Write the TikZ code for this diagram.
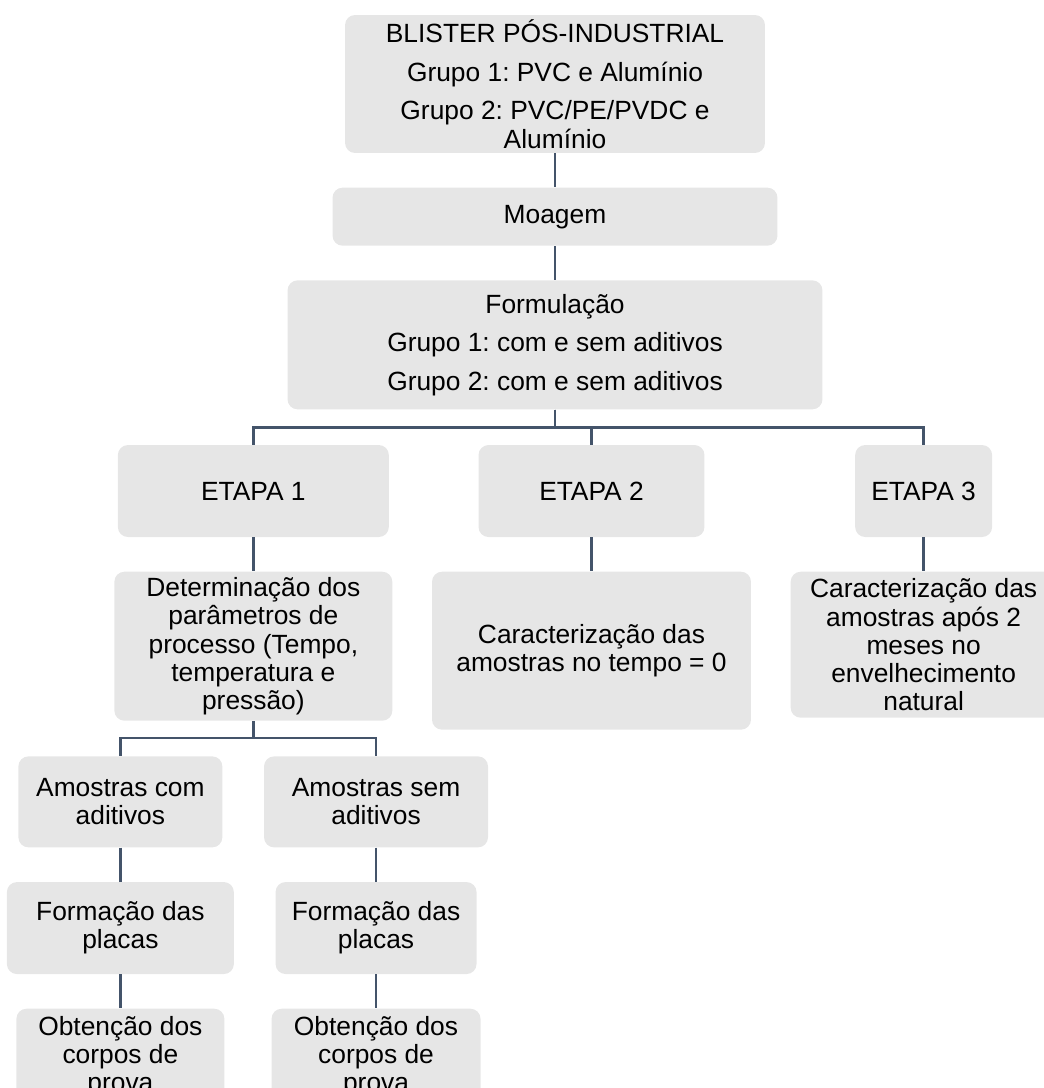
\documentclass[tikz,border=0pt]{standalone}
\usepackage{fontspec}
\setmainfont{Liberation Sans}
\usepackage{tikz}
\usetikzlibrary{positioning}
\frenchspacing
\definecolor{boxgray}{HTML}{E6E6E6}
\definecolor{linkblue}{HTML}{44546A}
\tikzset{
    every node/.style={font=\fontsize{15}{16}\selectfont},
    main node/.style={fill=boxgray,rounded corners=0.2cm,align=center,inner sep=1pt}
}

\begin{document}
\begin{tikzpicture}[
            x = 0.02cm, y = -0.02cm, % one unit = one pixel
            node distance = 0.68cm, % gap between rows
            link/.style = {draw=linkblue, line width=0.05cm} % connector style
        ]

        \useasboundingbox (0,0) rectangle (1044,1088);
        \clip (0,0) rectangle (1044,1088);

        \node[main node, minimum width=8.4cm, minimum height=2.76cm] (blister) at (555,84) {BLISTER PÓS-INDUSTRIAL\\[6pt] Grupo 1: PVC e Alumínio\\[6pt] Grupo 2: PVC/PE/PVDC e\\ Alumínio};
        \node[main node, minimum width=8.9cm, minimum height=1.16cm] [below=of blister] (moagem) {Moagem};
        \node[main node, minimum width=10.7cm, minimum height=2.58cm] [below=of moagem] (form) {Formulação\\[6pt] Grupo 1: com e sem aditivos\\[6pt] Grupo 2: com e sem aditivos};

        \node[main node, minimum width=4.52cm, minimum height=1.84cm] [below=0.7cm of form, xshift=0.73cm] (etapa2) {ETAPA 2};
        \node[main node, minimum width=5.42cm, minimum height=1.84cm] [left=1.78cm of etapa2] (etapa1) {ETAPA 1};
        \node[main node, minimum width=2.74cm, minimum height=1.84cm] [right=3cm of etapa2] (etapa3) {ETAPA 3};

        \node[main node, minimum width=5.56cm, minimum height=2.98cm] [below=of etapa1] (param) {Determinação dos\\ parâmetros de\\ processo (Tempo,\\ temperatura e\\ pressão)};
        \node[main node, minimum width=6.38cm, minimum height=3.16cm] [below=of etapa2] (carac0) {Caracterização das\\ amostras no tempo = 0};
        \node[main node, minimum width=5.32cm, minimum height=2.92cm] [below=of etapa3] (carac2) {Caracterização das\\ amostras após 2\\ meses no\\ envelhecimento\\ natural};

        \node[main node, minimum width=4.08cm, minimum height=1.82cm] [below=0.7cm of param, xshift=-2.66cm] (com) {Amostras com\\ aditivos};
        \node[main node, minimum width=4.48cm, minimum height=1.82cm] [right=0.82cm of com] (sem) {Amostras sem\\ aditivos};

        \node[main node, minimum width=4.54cm, minimum height=1.84cm] [below=of com] (placa1) {Formação das\\ placas};
        \node[main node, minimum width=4.02cm, minimum height=1.84cm] [below=of sem] (placa2) {Formação das\\ placas};

        \node[main node, minimum width=4.16cm, minimum height=1.92cm] [below=of placa1] (corpo1) {Obtenção dos\\ corpos de\\ prova};
        \node[main node, minimum width=4.18cm, minimum height=1.92cm] [below=of placa2] (corpo2) {Obtenção dos\\ corpos de\\ prova};

        \draw[link] (blister) -- (moagem);
        \draw[link] (moagem) -- (form);

        \draw[link] (form.south) -- ++(0,18) -| (etapa1.north);
        \draw[link] (form.south) -- ++(0,18) -| (etapa2.north);
        \draw[link] (form.south) -- ++(0,18) -| (etapa3.north);

        \draw[link] (etapa1) -- (param);
        \draw[link] (etapa2) -- (carac0);
        \draw[link] (etapa3) -- (carac2);

        \draw[link] (param.south) -- ++(0,17) -| (com.north);
        \draw[link] (param.south) -- ++(0,17) -| (sem.north);

        \draw[link] (com) -- (placa1);
        \draw[link] (sem) -- (placa2);
        \draw[link] (placa1) -- (corpo1);
        \draw[link] (placa2) -- (corpo2);

\end{tikzpicture}
\end{document}
